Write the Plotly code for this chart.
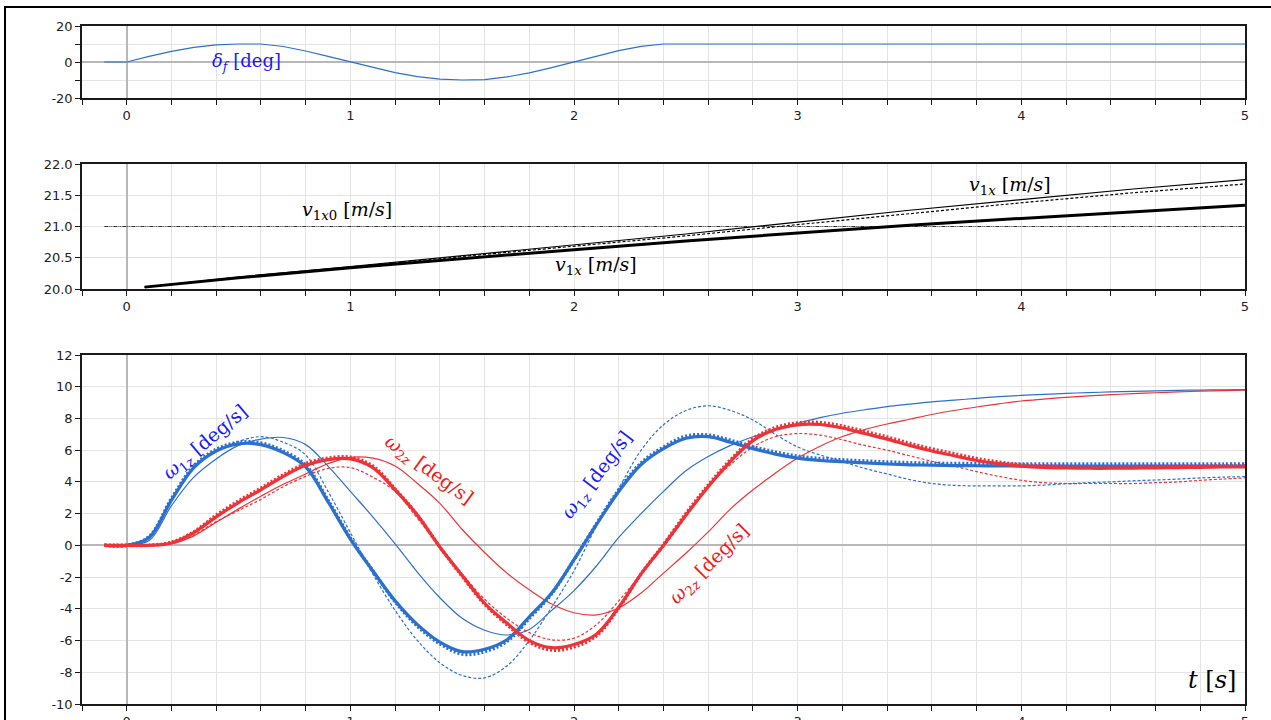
import plotly.graph_objects as go

# ---------------- data ----------------
# Panel 1: front steering angle
t_delta = [-0.1, 0.0, 0.1, 0.2, 0.3, 0.4, 0.5, 0.6, 0.7, 0.8, 0.9, 1.0,
           1.1, 1.2, 1.3, 1.4, 1.5, 1.6, 1.7, 1.8, 1.9, 2.0, 2.1, 2.2, 2.3, 2.4, 5.0]
delta_f = [0, 0, 3.1, 5.9, 8.1, 9.5, 10, 10, 8.6, 6.1, 3.1, 0,
           -3.1, -5.9, -8.1, -9.5, -10, -9.8, -8.3, -6.0, -3.1, 0, 3.4, 6.3, 8.7, 10, 10]

# Panel 2: longitudinal speed
t_v = [0.08, 0.5, 1.0, 1.5, 2.0, 2.5, 3.0, 3.5, 4.0, 4.5, 5.0]
v1x_thick = [20.03, 20.18, 20.34, 20.49, 20.63, 20.77, 20.90, 21.02, 21.13, 21.24, 21.34]
v1x_thin = [20.03, 20.19, 20.36, 20.53, 20.70, 20.88, 21.07, 21.26, 21.43, 21.60, 21.75]
v1x_dash = [20.03, 20.18, 20.35, 20.52, 20.68, 20.85, 21.03, 21.21, 21.38, 21.54, 21.68]
t_v0 = [-0.1, 5.0]
v1x0 = [21.0, 21.0]

# Panel 3: yaw rates
t_w = [-0.1, 0.0, 0.1, 0.2, 0.3, 0.4, 0.5, 0.6, 0.7, 0.8, 0.9,
       1.0, 1.1, 1.2, 1.3, 1.4, 1.5, 1.6, 1.7, 1.8, 1.9,
       2.0, 2.1, 2.2, 2.3, 2.4, 2.5, 2.6, 2.7, 2.8, 2.9,
       3.0, 3.1, 3.2, 3.3, 3.4, 3.5, 3.6, 3.7, 3.8, 3.9,
       4.0, 4.1, 4.2, 4.3, 4.4, 4.5, 4.6, 4.7, 4.8, 4.9, 5.0]

w1z_thick = [0, 0, 0.5, 2.85, 4.9, 5.95, 6.4, 6.35, 5.85, 4.95, 2.75,
             0.4, -1.6, -3.5, -5.0, -6.1, -6.7, -6.55, -5.95, -4.5, -3.0,
             -0.9, 1.3, 3.4, 5.1, 6.1, 6.75, 6.85, 6.5, 6.1, 5.75,
             5.5, 5.35, 5.27, 5.2, 5.13, 5.08, 5.05, 5.03, 5.02, 5.01,
             5.0, 5.0, 5.0, 5.0, 5.0, 5.0, 5.0, 5.0, 5.0, 5.0, 5.0]
w1z_dot = [0, 0, 0.55, 2.95, 5.0, 6.05, 6.5, 6.45, 5.95, 5.05, 2.85,
           0.45, -1.6, -3.55, -5.1, -6.2, -6.85, -6.7, -6.05, -4.6, -3.05,
           -0.9, 1.35, 3.5, 5.2, 6.2, 6.88, 6.95, 6.62, 6.22, 5.88,
           5.62, 5.47, 5.39, 5.32, 5.26, 5.21, 5.18, 5.16, 5.15, 5.14,
           5.13, 5.13, 5.13, 5.13, 5.13, 5.13, 5.13, 5.13, 5.13, 5.13, 5.13]
w1z_thin = [0, 0, 0.3, 2.5, 4.3, 5.45, 6.3, 6.7, 6.8, 6.35, 5.0,
            3.4, 1.8, 0.1, -1.7, -3.3, -4.6, -5.35, -5.65, -5.3, -4.1,
            -2.85, -1.3, 0.5, 2.0, 3.4, 4.7, 5.6, 6.3, 6.85, 7.3,
            7.7, 8.05, 8.33, 8.55, 8.75, 8.9, 9.05, 9.15, 9.27, 9.37,
            9.45, 9.52, 9.58, 9.63, 9.67, 9.71, 9.74, 9.77, 9.79, 9.81, 9.82]
w1z_dash = [0, 0, 0.45, 2.8, 4.9, 5.9, 6.55, 6.85, 6.5, 5.7, 3.4,
            0.8, -1.8, -4.1, -6.0, -7.4, -8.2, -8.35, -7.6, -6.0, -3.9,
            -1.6, 1.2, 3.6, 6.0, 7.6, 8.5, 8.8, 8.5, 7.9, 7.0,
            6.2, 5.7, 5.28, 4.85, 4.5, 4.15, 3.9, 3.78, 3.75, 3.75,
            3.75, 3.8, 3.88, 3.95, 4.0, 4.07, 4.12, 4.18, 4.25, 4.3, 4.33]

w2z_thick = [0, 0, 0, 0.15, 0.8, 1.8, 2.7, 3.5, 4.35, 5.05, 5.4,
             5.45, 4.9, 3.5, 1.9, -0.1, -1.9, -3.65, -4.9, -6.0, -6.45,
             -6.25, -5.6, -3.9, -1.8, 0.0, 1.9, 3.7, 5.3, 6.6, 7.3,
             7.6, 7.62, 7.4, 7.05, 6.7, 6.3, 5.95, 5.65, 5.35, 5.15,
             5.0, 4.92, 4.88, 4.86, 4.86, 4.87, 4.89, 4.9, 4.92, 4.94, 4.95]
w2z_dot = [0, 0, 0, 0.2, 0.85, 1.9, 2.8, 3.6, 4.45, 5.15, 5.5,
           5.55, 5.0, 3.55, 1.9, -0.1, -1.95, -3.7, -5.0, -6.1, -6.6,
           -6.4, -5.7, -3.95, -1.8, 0.05, 2.0, 3.8, 5.4, 6.72, 7.42,
           7.72, 7.74, 7.52, 7.18, 6.83, 6.44, 6.08, 5.78, 5.47, 5.25,
           5.08, 5.0, 4.96, 4.95, 4.95, 4.96, 4.97, 4.98, 4.99, 5.0, 5.0]
w2z_thin = [0, 0, 0, 0.1, 0.6, 1.45, 2.3, 3.1, 3.85, 4.5, 5.15,
            5.55, 5.5, 5.0, 3.9, 2.65, 1.0, -0.45, -1.75, -2.8, -3.7,
            -4.25, -4.38, -3.95, -3.0, -1.75, -0.5, 0.85, 2.3, 3.5, 4.55,
            5.5, 6.25, 6.86, 7.3, 7.65, 7.95, 8.25, 8.5, 8.72, 8.92,
            9.1, 9.22, 9.33, 9.42, 9.5, 9.56, 9.62, 9.67, 9.72, 9.75, 9.78]
w2z_dash = [0, 0, 0, 0.1, 0.65, 1.5, 2.2, 2.9, 3.7, 4.35, 4.85,
            4.9, 4.3, 3.4, 1.7, -0.1, -1.8, -3.4, -4.6, -5.5, -5.95,
            -5.85, -5.0, -3.5, -1.8, -0.1, 1.8, 3.7, 5.1, 6.2, 6.85,
            7.05, 6.95, 6.65, 6.3, 6.0, 5.65, 5.3, 5.0, 4.65, 4.35,
            4.1, 3.95, 3.9, 3.9, 3.9, 3.9, 3.95, 4.0, 4.1, 4.18, 4.25]

# tick labels
x_tickvals = [0, 1, 2, 3, 4, 5]
y1_vals = [-20, 0, 20]
y1_text = ["-20", "0", "20"]
y2_vals = [20.0, 20.5, 21.0, 21.5, 22.0]
y2_text = ["20.0", "20.5", "21.0", "21.5", "22.0"]
y3_vals = [-10, -8, -6, -4, -2, 0, 2, 4, 6, 8, 10, 12]
y3_text = ["-10", "-8", "-6", "-4", "-2", "0", "2", "4", "6", "8", "10", "12"]

# ---------------- styling ----------------
BLUE = "#2b70cf"
RED = "#ee3338"
GRID = "#e4e4e4"
ZERO = "#b8b8b8"
AXIS = "#1a1a1a"
TICKFONT = dict(family="DejaVu Sans", size=13, color="#222222")
LBLFONT = "DejaVu Serif"

fig = go.Figure()

# Panel 1
fig.add_trace(go.Scatter(x=t_delta, y=delta_f, mode="lines",
                         line=dict(color=BLUE, width=1.2), xaxis="x", yaxis="y"))

# Panel 2
fig.add_trace(go.Scatter(x=t_v0, y=v1x0, mode="lines",
                         line=dict(color="#333333", width=1.2, dash="4px,1px,1px,1px,1px,1px"),
                         xaxis="x2", yaxis="y2"))
fig.add_trace(go.Scatter(x=t_v, y=v1x_thin, mode="lines", line=dict(color="black", width=1.2),
                         xaxis="x2", yaxis="y2"))
fig.add_trace(go.Scatter(x=t_v, y=v1x_dash, mode="lines",
                         line=dict(color="black", width=1.2, dash="3px,2px"),
                         xaxis="x2", yaxis="y2"))
fig.add_trace(go.Scatter(x=t_v, y=v1x_thick, mode="lines", line=dict(color="black", width=3),
                         xaxis="x2", yaxis="y2"))

# Panel 3
def add3(y, color, width, dash=None):
    ln = dict(color=color, width=width, shape="spline", smoothing=1.0)
    if dash:
        ln["dash"] = dash
    fig.add_trace(go.Scatter(x=t_w, y=y, mode="lines", line=ln, xaxis="x3", yaxis="y3"))

add3(w1z_thin, BLUE, 1.2)
add3(w1z_dash, BLUE, 1.2, "3px,2px")
add3(w2z_thin, RED, 1.2)
add3(w2z_dash, RED, 1.2, "3px,2px")
add3(w1z_dot, BLUE, 3.5, "2px,2px")
add3(w1z_thick, BLUE, 3.2)
add3(w2z_dot, RED, 3.5, "2px,2px")
add3(w2z_thick, RED, 3.2)

# axes
def xax(anchor):
    return dict(range=[-0.2, 5.0], tickmode="array", tickvals=x_tickvals,
                showgrid=True, gridcolor=GRID, gridwidth=1,
                minor=dict(tick0=0, dtick=0.2, showgrid=True, gridcolor=GRID, gridwidth=1,
                           ticks="outside", ticklen=5, tickcolor=AXIS),
                zeroline=True, zerolinecolor=ZERO, zerolinewidth=1.5,
                showline=True, linecolor=AXIS, linewidth=1.5, mirror=True,
                ticks="outside", ticklen=5, tickcolor=AXIS, tickfont=TICKFONT,
                anchor=anchor, fixedrange=True, automargin=False)

def yax(rng, vals, texts, dom, anchor, zero=True, minor=None):
    d = dict(range=rng, domain=dom, tickmode="array", tickvals=vals, ticktext=texts,
             showgrid=True, gridcolor=GRID, gridwidth=1,
             zeroline=zero, zerolinecolor=ZERO, zerolinewidth=1.5,
             showline=True, linecolor=AXIS, linewidth=1.5, mirror=True,
             ticks="outside", ticklen=5, tickcolor=AXIS, tickfont=TICKFONT,
             anchor=anchor, fixedrange=True, automargin=False)
    if minor:
        d["minor"] = minor
    return d

H = 720
T_M, B_M = 26, 16
PH = H - T_M - B_M
def dom(top_px, bot_px):
    return [(H - B_M - bot_px) / PH, (H - B_M - top_px) / PH]

fig.update_layout(
    width=1271, height=720,
    margin=dict(l=82, r=26, t=T_M, b=B_M, autoexpand=False),
    paper_bgcolor="white", plot_bgcolor="white",
    showlegend=False,
    xaxis=xax("y"),
    yaxis=yax([-20, 20], y1_vals, y1_text, dom(26, 98), "x",
              minor=dict(tick0=0, dtick=10, showgrid=True, gridcolor=GRID,
                         ticks="outside", ticklen=5, tickcolor=AXIS)),
    xaxis2=xax("y2"),
    yaxis2=yax([20, 22], y2_vals, y2_text, dom(164, 289), "x2", zero=False),
    xaxis3=xax("y3"),
    yaxis3=yax([-10, 12], y3_vals, y3_text, dom(355, 704), "x3"),
)

# outer frame
fig.add_shape(type="rect", xref="paper", yref="paper",
              x0=(5 - 82) / 1163, x1=(1290 - 82) / 1163,
              y0=-0.2, y1=(H - B_M - 7) / PH,
              line=dict(color="black", width=2), fillcolor="rgba(0,0,0,0)", layer="below")

def lab(text, x, y, xr, yr, color, size=19, angle=0):
    fig.add_annotation(text=text, x=x, y=y, xref=xr, yref=yr, showarrow=False,
                       textangle=angle, font=dict(family=LBLFONT, size=size, color=color),
                       xanchor="center", yanchor="middle")

LBLUE = "#1b1bf0"
LRED = "#f01b1b"
lab("<i>δ</i><sub><i>f</i></sub> [deg]", 0.537, 0, "x", "y", LBLUE, size=18)
lab("<i>v</i><sub>1<i>x</i>0</sub> [<i>m</i>/<i>s</i>]", 0.985, 21.26, "x2", "y2", "black")
lab("<i>v</i><sub>1<i>x</i></sub> [<i>m</i>/<i>s</i>]", 3.95, 21.65, "x2", "y2", "black")
lab("<i>v</i><sub>1<i>x</i></sub> [<i>m</i>/<i>s</i>]", 2.096, 20.37, "x2", "y2", "black")
lab("<i>ω</i><sub>1<i>z</i></sub> [deg/s]", 0.354, 6.46, "x3", "y3", LBLUE, angle=-40)
lab("<i>ω</i><sub>2<i>z</i></sub> [deg/s]", 1.352, 4.75, "x3", "y3", LRED, angle=36)
lab("<i>ω</i><sub>1<i>z</i></sub> [deg/s]", 2.105, 4.38, "x3", "y3", LBLUE, angle=-53)
lab("<i>ω</i><sub>2<i>z</i></sub> [deg/s]", 2.606, -1.23, "x3", "y3", LRED, angle=-45)
lab("<i>t</i> [<i>s</i>]", 4.854, -8.48, "x3", "y3", "black", size=24)

fig.write_html("out.html", config={"displayModeBar": False},
               post_script="document.body.style.margin='0';document.body.style.overflow='hidden';")
